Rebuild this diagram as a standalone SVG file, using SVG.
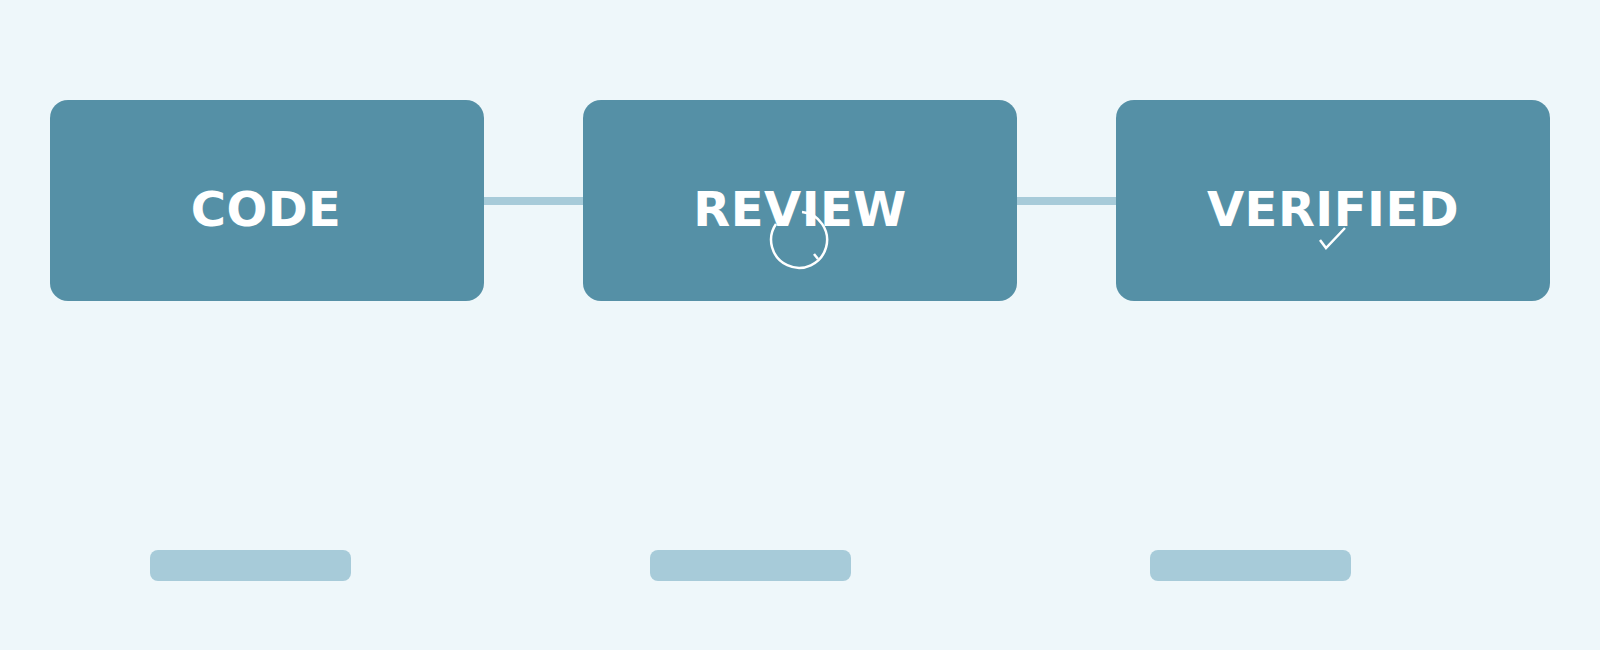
<svg xmlns="http://www.w3.org/2000/svg" width="1600" height="650" viewBox="0 0 1600 650">
<style>
.box{fill:#5590a6}
.lbl{fill:#fff;font-family:"DejaVu Sans",sans-serif;font-weight:bold;font-size:48px;text-anchor:middle;letter-spacing:0.5px}
.pill{fill:#a7cbd9}
.ic{fill:none;stroke:#fff;stroke-width:2.5}
</style>
<rect width="1600" height="650" fill="#eef7fa"/>
<g id="connectors">
<rect x="484" y="197" width="99" height="8" fill="#a7cbd9"/>
<rect x="1017" y="197" width="99" height="8" fill="#a7cbd9"/>
</g>
<g id="code"><rect class="box" x="50" y="100" width="434" height="201" rx="18"/><text class="lbl" x="266" y="226">CODE</text></g>
<g id="review"><rect class="box" x="583" y="100" width="434" height="201" rx="18"/><text class="lbl" x="800" y="226">REVIEW</text>
<path class="ic" d="M802 212 A28 28 0 1 1 776 224"/><path class="ic" d="M814 254 L818 259"/></g>
<g id="verified"><rect class="box" x="1116" y="100" width="434" height="201" rx="18"/><text class="lbl" x="1333" y="226">VERIFIED</text>
<path class="ic" d="M1320 240 L1326 248 L1345 228"/></g>
<g id="pills">
<rect class="pill" x="150" y="550" width="201" height="31" rx="8"/>
<rect class="pill" x="650" y="550" width="201" height="31" rx="8"/>
<rect class="pill" x="1150" y="550" width="201" height="31" rx="8"/>
</g>
</svg>
